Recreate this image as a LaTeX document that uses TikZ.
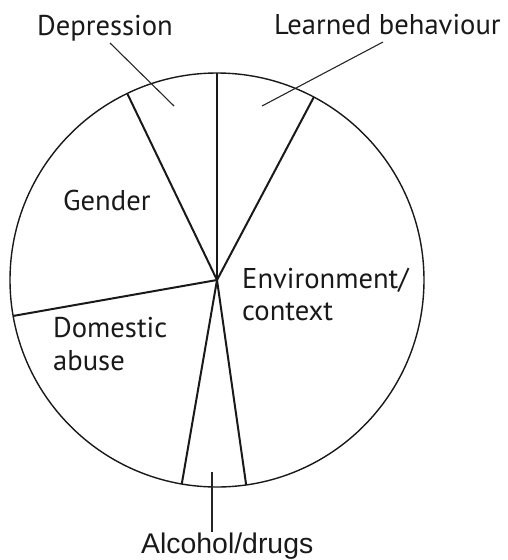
\documentclass[tikz,border=0pt]{standalone}
\usepackage{fontspec}
\usetikzlibrary{calc}
\newfontfamily\labelfont{PT Sans}
\newfontfamily\arialfont{Liberation Sans}
\tikzset{
  rim/.style={draw=black!90, line width=1.4pt},
  spoke/.style={draw=black!90, line width=2pt},
  leader/.style={draw=black!85, line width=1.1pt},
  lbl/.style={anchor=base west, inner sep=0pt, text=black!90, font=\labelfont\fontsize{28.6}{32}\selectfont},
  albl/.style={anchor=base west, inner sep=0pt, text=black!90, font=\arialfont\fontsize{28.4}{32}\selectfont}
}
\begin{document}
\begin{tikzpicture}[x=1pt,y=-1pt]
  \useasboundingbox (0,0) rectangle (507,560);
  \coordinate (c) at (217,280);
  % pie outline
  \draw[rim] (c) circle[radius=207];
  % slice borders
  \coordinate (p1) at ($(c)+(-90:207)$);
  \coordinate (p2) at ($(c)+(-62.1:207)$);
  \coordinate (p3) at ($(c)+(81.9:207)$);
  \coordinate (p4) at ($(c)+(99.8:207)$);
  \coordinate (p5) at ($(c)+(170:207)$);
  \coordinate (p6) at ($(c)+(-115.7:207)$);
  \foreach \p in {p1,p2,p3,p4,p5,p6} \draw[spoke] (c) -- (\p);
  % labels inside the pie
  \node[lbl] (gender) at (63,210) {Gender};
  \node[lbl] (env) at (242,288) {Environment/};
  \node[lbl] (ctx) at (242,320) {context};
  \node[lbl] (dom) at (53,337) {Domestic};
  \node[lbl] (abuse) at (53,370) {abuse};
  % labels outside with leader lines
  \node[lbl] (dep) at (37,35) {Depression};
  \node[lbl] (learn) at (274,34) {Learned behaviour};
  \node[albl] (alc) at (141,553) {Alcohol/drugs};
  \coordinate (depA) at (110,43);
  \coordinate (depB) at (174,106);
  \coordinate (lrnA) at (383,42);
  \coordinate (lrnB) at (262,106);
  \coordinate (alcA) at (212,472);
  \coordinate (alcB) at (212,532);
  \draw[leader] (depA) -- (depB);
  \draw[leader] (lrnA) -- (lrnB);
  \draw[leader] (alcA) -- (alcB);
\end{tikzpicture}
\end{document}
